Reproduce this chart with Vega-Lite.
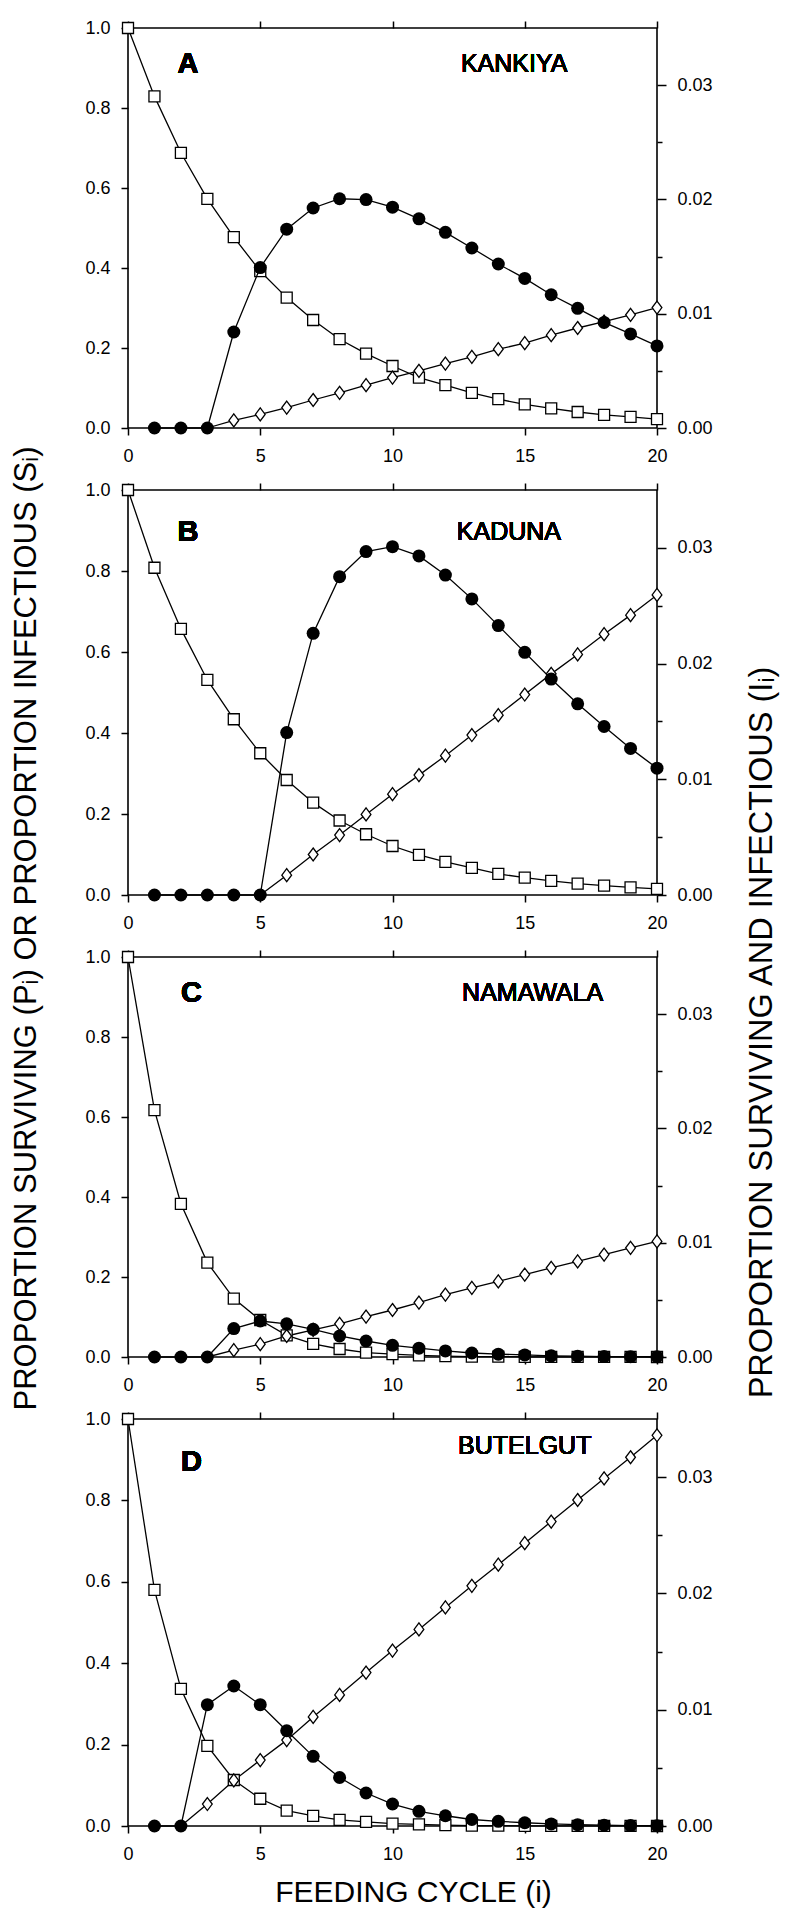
{
"$schema": "https://vega.github.io/schema/vega-lite/v6.json",
"background": "white",
"padding": {"left": 9, "top": 18, "right": 5, "bottom": 4},
"spacing": 62,
"bounds": "flush",
"datasets": {
"dA": [
{"i":0,"P":1.0,"S":null,"I":null},{"i":1,"P":0.829,"S":null,"I":0},{"i":2,"P":0.688,"S":null,"I":0},{"i":3,"P":0.573,"S":0,"I":0},
{"i":4,"P":0.477,"S":0.019,"I":0.0084},{"i":5,"P":0.392,"S":0.034,"I":0.01404},{"i":6,"P":0.326,"S":0.051,"I":0.0174},
{"i":7,"P":0.270,"S":0.070,"I":0.01925},{"i":8,"P":0.222,"S":0.088,"I":0.02006},{"i":9,"P":0.186,"S":0.107,"I":0.01999},
{"i":10,"P":0.155,"S":0.126,"I":0.01932},{"i":11,"P":0.126,"S":0.143,"I":0.0183},{"i":12,"P":0.107,"S":0.161,"I":0.01712},
{"i":13,"P":0.088,"S":0.178,"I":0.01575},{"i":14,"P":0.072,"S":0.197,"I":0.01435},{"i":15,"P":0.059,"S":0.212,"I":0.01309},
{"i":16,"P":0.049,"S":0.232,"I":0.01166},{"i":17,"P":0.040,"S":0.250,"I":0.01047},{"i":18,"P":0.033,"S":0.266,"I":0.00924},
{"i":19,"P":0.028,"S":0.283,"I":0.00823},{"i":20,"P":0.022,"S":0.301,"I":0.00718}
],
"dB": [
{"i":0,"P":1.0,"S":null,"I":null},{"i":1,"P":0.808,"S":null,"I":0},{"i":2,"P":0.657,"S":null,"I":0},{"i":3,"P":0.531,"S":null,"I":0},
{"i":4,"P":0.434,"S":null,"I":0},{"i":5,"P":0.350,"S":0,"I":0},{"i":6,"P":0.284,"S":0.049,"I":0.01404},
{"i":7,"P":0.228,"S":0.100,"I":0.02261},{"i":8,"P":0.184,"S":0.148,"I":0.02751},{"i":9,"P":0.150,"S":0.199,"I":0.02968},
{"i":10,"P":0.121,"S":0.249,"I":0.0301},{"i":11,"P":0.099,"S":0.296,"I":0.0293},{"i":12,"P":0.082,"S":0.344,"I":0.02765},
{"i":13,"P":0.067,"S":0.395,"I":0.02559},{"i":14,"P":0.052,"S":0.444,"I":0.02328},{"i":15,"P":0.043,"S":0.495,"I":0.02097},
{"i":16,"P":0.035,"S":0.546,"I":0.01866},{"i":17,"P":0.028,"S":0.594,"I":0.01652},{"i":18,"P":0.023,"S":0.644,"I":0.01456},
{"i":19,"P":0.019,"S":0.691,"I":0.01267},{"i":20,"P":0.015,"S":0.741,"I":0.01096}
],
"dC": [
{"i":0,"P":1.0,"S":null,"I":null},{"i":1,"P":0.617,"S":null,"I":0},{"i":2,"P":0.383,"S":null,"I":0},{"i":3,"P":0.236,"S":0,"I":0},
{"i":4,"P":0.146,"S":0.017,"I":0.00249},{"i":5,"P":0.0925,"S":0.032,"I":0.00315},{"i":6,"P":0.054,"S":0.0525,"I":0.0029},
{"i":7,"P":0.033,"S":0.068,"I":0.00242},{"i":8,"P":0.020,"S":0.083,"I":0.00184},{"i":9,"P":0.011,"S":0.101,"I":0.0014},
{"i":10,"P":0.007,"S":0.1175,"I":0.00102},{"i":11,"P":0.004,"S":0.136,"I":0.00077},{"i":12,"P":0.002,"S":0.156,"I":0.00053},
{"i":13,"P":0.001,"S":0.173,"I":0.00035},{"i":14,"P":0.001,"S":0.189,"I":0.00025},{"i":15,"P":0.0005,"S":0.206,"I":0.00018},
{"i":16,"P":0.0003,"S":0.223,"I":0.0001},{"i":17,"P":0.0002,"S":0.239,"I":0.00007},{"i":18,"P":0.0001,"S":0.256,"I":0.00004},
{"i":19,"P":0.0001,"S":0.273,"I":0.00003},{"i":20,"P":0.0,"S":0.289,"I":0.00002}
],
"dD": [
{"i":0,"P":1.0,"S":null,"I":null},{"i":1,"P":0.580,"S":null,"I":0},{"i":2,"P":0.337,"S":0,"I":0},{"i":3,"P":0.197,"S":0.054,"I":0.01043},
{"i":4,"P":0.113,"S":0.112,"I":0.01204},{"i":5,"P":0.067,"S":0.162,"I":0.01043},{"i":6,"P":0.038,"S":0.211,"I":0.00819},
{"i":7,"P":0.025,"S":0.268,"I":0.00599},{"i":8,"P":0.015,"S":0.322,"I":0.00417},{"i":9,"P":0.010,"S":0.377,"I":0.00284},
{"i":10,"P":0.006,"S":0.431,"I":0.00189},{"i":11,"P":0.004,"S":0.483,"I":0.00126},{"i":12,"P":0.002,"S":0.537,"I":0.00088},
{"i":13,"P":0.001,"S":0.590,"I":0.00056},{"i":14,"P":0.001,"S":0.642,"I":0.0004},{"i":15,"P":0.0005,"S":0.695,"I":0.00028},
{"i":16,"P":0.0003,"S":0.748,"I":0.00018},{"i":17,"P":0.0002,"S":0.801,"I":0.00011},{"i":18,"P":0.0001,"S":0.854,"I":0.00007},
{"i":19,"P":0.0001,"S":0.906,"I":0.00004},{"i":20,"P":0.0,"S":0.960,"I":0.00003}
]
},
"vconcat": [
{
"width": 529, "height": 400,
"data": {"name": "dA"},
"layer": [
{"mark": {"type": "line", "color": "black", "strokeWidth": 1.3},
 "encoding": {
  "x": {"field": "i", "type": "quantitative", "scale": {"domain": [0, 20], "nice": false}, "axis": {"orient": "bottom", "values": [0,5,10,15,20], "format": "d", "tickSize": 7, "labelPadding": 12, "title": null}},
  "y": {"field": "P", "type": "quantitative", "scale": {"domain": [0, 1], "nice": false}, "axis": {"orient": "left", "values": [0,0.2,0.4,0.6,0.8,1], "format": ".1f", "tickSize": 7, "labelPadding": 11, "title": null}}}},
{"transform": [{"filter": "isValid(datum.S)"}],
 "mark": {"type": "line", "color": "black", "strokeWidth": 1.3},
 "encoding": {"x": {"field": "i", "type": "quantitative", "axis": null}, "y": {"field": "S", "type": "quantitative", "scale": {"domain": [0, 1], "nice": false}, "axis": null}}},
{"mark": {"type": "point", "shape": "square", "size": 121, "filled": true, "fill": "white", "stroke": "black", "strokeWidth": 1.3, "opacity": 1},
 "encoding": {"x": {"field": "i", "type": "quantitative", "axis": null}, "y": {"field": "P", "type": "quantitative", "scale": {"domain": [0, 1], "nice": false}, "axis": null}}},
{"transform": [{"filter": "datum.S > 0"}],
 "mark": {"type": "point", "shape": "M0,-1L0.75,0L0,1L-0.75,0Z", "size": 169, "filled": true, "fill": "white", "stroke": "black", "strokeWidth": 1.3, "opacity": 1},
 "encoding": {"x": {"field": "i", "type": "quantitative", "axis": null}, "y": {"field": "S", "type": "quantitative", "scale": {"domain": [0, 1], "nice": false}, "axis": null}}},
{"mark": {"type": "text", "fontSize": 29, "fontWeight": "bold", "align": "center", "baseline": "middle", "color": "black"},
 "encoding": {"x": {"datum": 2.27, "type": "quantitative", "axis": null}, "y": {"datum": 0.91, "type": "quantitative", "scale": {"domain": [0, 1], "nice": false}, "axis": null}, "text": {"value": "A"}}},
{"mark": {"type": "text", "fontSize": 25, "align": "center", "baseline": "middle", "color": "black"},
 "encoding": {"x": {"datum": 14.6, "type": "quantitative", "axis": null}, "y": {"datum": 0.91, "type": "quantitative", "scale": {"domain": [0, 1], "nice": false}, "axis": null}, "text": {"value": "KANKIYA"}}},
{"transform": [{"filter": "isValid(datum.I)"}],
 "mark": {"type": "line", "color": "black", "strokeWidth": 1.3},
 "encoding": {
  "x": {"field": "i", "type": "quantitative", "axis": {"orient": "top", "values": [0,5,10,15,20], "labels": false, "tickSize": 7, "title": null}},
  "y": {"field": "I", "type": "quantitative", "scale": {"domain": [0, 0.035], "nice": false}, "axis": {"orient": "right", "values": [0,0.005,0.01,0.015,0.02,0.025,0.03], "labelExpr": "round(datum.value*200)%2==0 ? format(datum.value,'.2f') : ''", "tickSize": {"condition": {"test": "round(datum.value*200)%2==0", "value": 9}, "value": 5}, "labelPadding": 11, "title": null}}}},
{"transform": [{"filter": "isValid(datum.I)"}],
 "mark": {"type": "point", "shape": "circle", "size": 169, "filled": true, "color": "black", "opacity": 1},
 "encoding": {"x": {"field": "i", "type": "quantitative", "axis": null}, "y": {"field": "I", "type": "quantitative", "scale": {"domain": [0, 0.035], "nice": false}, "axis": null}}}
],
"resolve": {"scale": {"y": "independent"}, "axis": {"x": "independent", "y": "independent"}}
},
{
"width": 529, "height": 405,
"data": {"name": "dB"},
"layer": [
{"mark": {"type": "line", "color": "black", "strokeWidth": 1.3},
 "encoding": {
  "x": {"field": "i", "type": "quantitative", "scale": {"domain": [0, 20], "nice": false}, "axis": {"orient": "bottom", "values": [0,5,10,15,20], "format": "d", "tickSize": 7, "labelPadding": 12, "title": null}},
  "y": {"field": "P", "type": "quantitative", "scale": {"domain": [0, 1], "nice": false}, "axis": {"orient": "left", "values": [0,0.2,0.4,0.6,0.8,1], "format": ".1f", "tickSize": 7, "labelPadding": 11, "title": null}}}},
{"transform": [{"filter": "isValid(datum.S)"}],
 "mark": {"type": "line", "color": "black", "strokeWidth": 1.3},
 "encoding": {"x": {"field": "i", "type": "quantitative", "axis": null}, "y": {"field": "S", "type": "quantitative", "scale": {"domain": [0, 1], "nice": false}, "axis": null}}},
{"mark": {"type": "point", "shape": "square", "size": 121, "filled": true, "fill": "white", "stroke": "black", "strokeWidth": 1.3, "opacity": 1},
 "encoding": {"x": {"field": "i", "type": "quantitative", "axis": null}, "y": {"field": "P", "type": "quantitative", "scale": {"domain": [0, 1], "nice": false}, "axis": null}}},
{"transform": [{"filter": "datum.S > 0"}],
 "mark": {"type": "point", "shape": "M0,-1L0.75,0L0,1L-0.75,0Z", "size": 169, "filled": true, "fill": "white", "stroke": "black", "strokeWidth": 1.3, "opacity": 1},
 "encoding": {"x": {"field": "i", "type": "quantitative", "axis": null}, "y": {"field": "S", "type": "quantitative", "scale": {"domain": [0, 1], "nice": false}, "axis": null}}},
{"mark": {"type": "text", "fontSize": 29, "fontWeight": "bold", "align": "center", "baseline": "middle", "color": "black"},
 "encoding": {"x": {"datum": 2.27, "type": "quantitative", "axis": null}, "y": {"datum": 0.896, "type": "quantitative", "scale": {"domain": [0, 1], "nice": false}, "axis": null}, "text": {"value": "B"}}},
{"mark": {"type": "text", "fontSize": 25, "align": "center", "baseline": "middle", "color": "black"},
 "encoding": {"x": {"datum": 14.4, "type": "quantitative", "axis": null}, "y": {"datum": 0.896, "type": "quantitative", "scale": {"domain": [0, 1], "nice": false}, "axis": null}, "text": {"value": "KADUNA"}}},
{"transform": [{"filter": "isValid(datum.I)"}],
 "mark": {"type": "line", "color": "black", "strokeWidth": 1.3},
 "encoding": {
  "x": {"field": "i", "type": "quantitative", "axis": {"orient": "top", "values": [0,5,10,15,20], "labels": false, "tickSize": 7, "title": null}},
  "y": {"field": "I", "type": "quantitative", "scale": {"domain": [0, 0.035], "nice": false}, "axis": {"orient": "right", "values": [0,0.005,0.01,0.015,0.02,0.025,0.03], "labelExpr": "round(datum.value*200)%2==0 ? format(datum.value,'.2f') : ''", "tickSize": {"condition": {"test": "round(datum.value*200)%2==0", "value": 9}, "value": 5}, "labelPadding": 11, "title": null}}}},
{"transform": [{"filter": "isValid(datum.I)"}],
 "mark": {"type": "point", "shape": "circle", "size": 169, "filled": true, "color": "black", "opacity": 1},
 "encoding": {"x": {"field": "i", "type": "quantitative", "axis": null}, "y": {"field": "I", "type": "quantitative", "scale": {"domain": [0, 0.035], "nice": false}, "axis": null}}}
],
"resolve": {"scale": {"y": "independent"}, "axis": {"x": "independent", "y": "independent"}}
},
{
"width": 529, "height": 400,
"data": {"name": "dC"},
"layer": [
{"mark": {"type": "line", "color": "black", "strokeWidth": 1.3},
 "encoding": {
  "x": {"field": "i", "type": "quantitative", "scale": {"domain": [0, 20], "nice": false}, "axis": {"orient": "bottom", "values": [0,5,10,15,20], "format": "d", "tickSize": 7, "labelPadding": 12, "title": null}},
  "y": {"field": "P", "type": "quantitative", "scale": {"domain": [0, 1], "nice": false}, "axis": {"orient": "left", "values": [0,0.2,0.4,0.6,0.8,1], "format": ".1f", "tickSize": 7, "labelPadding": 11, "title": "PROPORTION SURVIVING (Pᵢ) OR PROPORTION INFECTIOUS (Sᵢ)", "titleFontSize": 31, "titleAngle": 270, "titleX": -102, "titleY": -29, "titleAlign": "center", "titleBaseline": "middle"}}}},
{"transform": [{"filter": "isValid(datum.S)"}],
 "mark": {"type": "line", "color": "black", "strokeWidth": 1.3},
 "encoding": {"x": {"field": "i", "type": "quantitative", "axis": null}, "y": {"field": "S", "type": "quantitative", "scale": {"domain": [0, 1], "nice": false}, "axis": null}}},
{"mark": {"type": "point", "shape": "square", "size": 121, "filled": true, "fill": "white", "stroke": "black", "strokeWidth": 1.3, "opacity": 1},
 "encoding": {"x": {"field": "i", "type": "quantitative", "axis": null}, "y": {"field": "P", "type": "quantitative", "scale": {"domain": [0, 1], "nice": false}, "axis": null}}},
{"transform": [{"filter": "datum.S > 0"}],
 "mark": {"type": "point", "shape": "M0,-1L0.75,0L0,1L-0.75,0Z", "size": 169, "filled": true, "fill": "white", "stroke": "black", "strokeWidth": 1.3, "opacity": 1},
 "encoding": {"x": {"field": "i", "type": "quantitative", "axis": null}, "y": {"field": "S", "type": "quantitative", "scale": {"domain": [0, 1], "nice": false}, "axis": null}}},
{"mark": {"type": "text", "fontSize": 29, "fontWeight": "bold", "align": "center", "baseline": "middle", "color": "black"},
 "encoding": {"x": {"datum": 2.4, "type": "quantitative", "axis": null}, "y": {"datum": 0.91, "type": "quantitative", "scale": {"domain": [0, 1], "nice": false}, "axis": null}, "text": {"value": "C"}}},
{"mark": {"type": "text", "fontSize": 25, "align": "center", "baseline": "middle", "color": "black"},
 "encoding": {"x": {"datum": 15.3, "type": "quantitative", "axis": null}, "y": {"datum": 0.91, "type": "quantitative", "scale": {"domain": [0, 1], "nice": false}, "axis": null}, "text": {"value": "NAMAWALA"}}},
{"transform": [{"filter": "isValid(datum.I)"}],
 "mark": {"type": "line", "color": "black", "strokeWidth": 1.3},
 "encoding": {
  "x": {"field": "i", "type": "quantitative", "axis": {"orient": "top", "values": [0,5,10,15,20], "labels": false, "tickSize": 7, "title": null}},
  "y": {"field": "I", "type": "quantitative", "scale": {"domain": [0, 0.035], "nice": false}, "axis": {"orient": "right", "values": [0,0.005,0.01,0.015,0.02,0.025,0.03], "labelExpr": "round(datum.value*200)%2==0 ? format(datum.value,'.2f') : ''", "tickSize": {"condition": {"test": "round(datum.value*200)%2==0", "value": 9}, "value": 5}, "labelPadding": 11, "title": "PROPORTION SURVIVING AND INFECTIOUS (Iᵢ)", "titleFontSize": 32.5, "titleAngle": 270, "titleX": 104, "titleY": 75, "titleAlign": "center", "titleBaseline": "middle"}}}},
{"transform": [{"filter": "isValid(datum.I)"}],
 "mark": {"type": "point", "shape": "circle", "size": 169, "filled": true, "color": "black", "opacity": 1},
 "encoding": {"x": {"field": "i", "type": "quantitative", "axis": null}, "y": {"field": "I", "type": "quantitative", "scale": {"domain": [0, 0.035], "nice": false}, "axis": null}}}
],
"resolve": {"scale": {"y": "independent"}, "axis": {"x": "independent", "y": "independent"}}
},
{
"width": 529, "height": 407,
"data": {"name": "dD"},
"layer": [
{"mark": {"type": "line", "color": "black", "strokeWidth": 1.3},
 "encoding": {
  "x": {"field": "i", "type": "quantitative", "scale": {"domain": [0, 20], "nice": false}, "axis": {"orient": "bottom", "values": [0,5,10,15,20], "format": "d", "tickSize": 7, "labelPadding": 12, "title": "FEEDING CYCLE (i)", "titleX": 285, "titleY": 66, "titleAlign": "center", "titleBaseline": "middle"}},
  "y": {"field": "P", "type": "quantitative", "scale": {"domain": [0, 1], "nice": false}, "axis": {"orient": "left", "values": [0,0.2,0.4,0.6,0.8,1], "format": ".1f", "tickSize": 7, "labelPadding": 11, "title": null}}}},
{"transform": [{"filter": "isValid(datum.S)"}],
 "mark": {"type": "line", "color": "black", "strokeWidth": 1.3},
 "encoding": {"x": {"field": "i", "type": "quantitative", "axis": null}, "y": {"field": "S", "type": "quantitative", "scale": {"domain": [0, 1], "nice": false}, "axis": null}}},
{"mark": {"type": "point", "shape": "square", "size": 121, "filled": true, "fill": "white", "stroke": "black", "strokeWidth": 1.3, "opacity": 1},
 "encoding": {"x": {"field": "i", "type": "quantitative", "axis": null}, "y": {"field": "P", "type": "quantitative", "scale": {"domain": [0, 1], "nice": false}, "axis": null}}},
{"transform": [{"filter": "datum.S > 0"}],
 "mark": {"type": "point", "shape": "M0,-1L0.75,0L0,1L-0.75,0Z", "size": 169, "filled": true, "fill": "white", "stroke": "black", "strokeWidth": 1.3, "opacity": 1},
 "encoding": {"x": {"field": "i", "type": "quantitative", "axis": null}, "y": {"field": "S", "type": "quantitative", "scale": {"domain": [0, 1], "nice": false}, "axis": null}}},
{"mark": {"type": "text", "fontSize": 29, "fontWeight": "bold", "align": "center", "baseline": "middle", "color": "black"},
 "encoding": {"x": {"datum": 2.4, "type": "quantitative", "axis": null}, "y": {"datum": 0.894, "type": "quantitative", "scale": {"domain": [0, 1], "nice": false}, "axis": null}, "text": {"value": "D"}}},
{"mark": {"type": "text", "fontSize": 25, "align": "center", "baseline": "middle", "color": "black"},
 "encoding": {"x": {"datum": 15.0, "type": "quantitative", "axis": null}, "y": {"datum": 0.934, "type": "quantitative", "scale": {"domain": [0, 1], "nice": false}, "axis": null}, "text": {"value": "BUTELGUT"}}},
{"transform": [{"filter": "isValid(datum.I)"}],
 "mark": {"type": "line", "color": "black", "strokeWidth": 1.3},
 "encoding": {
  "x": {"field": "i", "type": "quantitative", "axis": {"orient": "top", "values": [0,5,10,15,20], "labels": false, "tickSize": 7, "title": null}},
  "y": {"field": "I", "type": "quantitative", "scale": {"domain": [0, 0.035], "nice": false}, "axis": {"orient": "right", "values": [0,0.005,0.01,0.015,0.02,0.025,0.03], "labelExpr": "round(datum.value*200)%2==0 ? format(datum.value,'.2f') : ''", "tickSize": {"condition": {"test": "round(datum.value*200)%2==0", "value": 9}, "value": 5}, "labelPadding": 11, "title": null}}}},
{"transform": [{"filter": "isValid(datum.I)"}],
 "mark": {"type": "point", "shape": "circle", "size": 169, "filled": true, "color": "black", "opacity": 1},
 "encoding": {"x": {"field": "i", "type": "quantitative", "axis": null}, "y": {"field": "I", "type": "quantitative", "scale": {"domain": [0, 0.035], "nice": false}, "axis": null}}}
],
"resolve": {"scale": {"y": "independent"}, "axis": {"x": "independent", "y": "independent"}}
}
],
"config": {
 "font": "Liberation Sans",
 "view": {"stroke": "black", "strokeWidth": 1.6},
 "text": {"font": "Liberation Sans"},
 "axis": {"labelFont": "Liberation Sans", "labelFontSize": 18, "labelColor": "black", "tickColor": "black", "tickWidth": 1.5, "domain": false, "grid": false, "labelFlush": false, "labelOverlap": false, "titleColor": "black", "titleFont": "Liberation Sans", "titleFontSize": 30, "titleFontWeight": "normal"}
}
}
